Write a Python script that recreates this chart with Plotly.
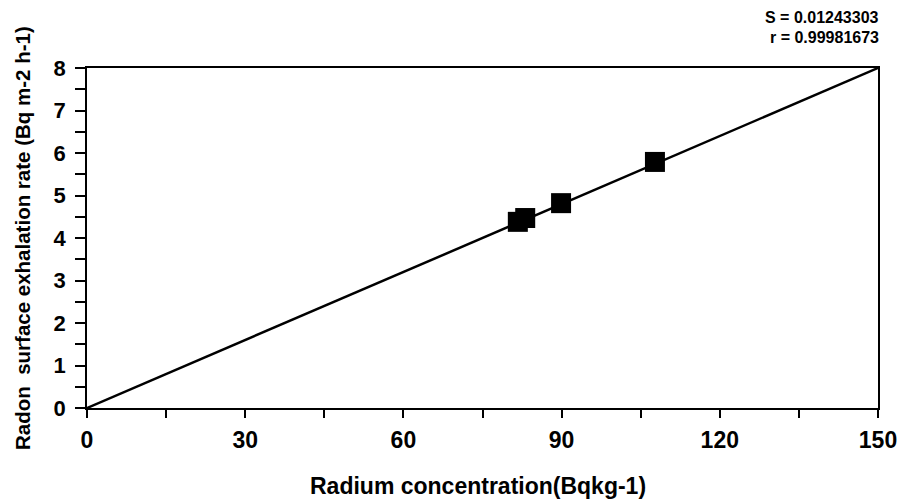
import plotly.graph_objects as go

radium = [81.7, 83.1, 89.9, 107.7]
exhalation = [4.38, 4.47, 4.82, 5.79]
fit_x = [0, 150]
fit_y = [0, 8]
x_ticks = [0, 30, 60, 90, 120, 150]
y_ticks = [0, 1, 2, 3, 4, 5, 6, 7, 8]
x_title = "Radium concentration(Bqkg-1)"
y_title = "Radon  surface exhalation rate (Bq m-2 h-1)"
stats = ["S = 0.01243303", "r = 0.99981673"]

fig = go.Figure()
fig.add_trace(go.Scatter(x=fit_x, y=fit_y, mode="lines",
                         line=dict(color="black", width=2.5), showlegend=False,
                         cliponaxis=False))
fig.add_trace(go.Scatter(x=radium, y=exhalation, mode="markers",
                         marker=dict(symbol="square", size=20, color="black"),
                         showlegend=False))

font_b = "Liberation Sans, Arial, sans-serif"
fig.update_layout(
    width=905, height=503,
    margin=dict(l=87, r=27, t=68, b=95),
    plot_bgcolor="white", paper_bgcolor="white",
    font=dict(family=font_b, color="black"),
    xaxis=dict(range=[0, 150], tickvals=x_ticks, ticks="outside", ticklen=8,
               tickwidth=1.5, tickcolor="black", showline=True, linecolor="black",
               linewidth=1.5, mirror=True, showgrid=False, zeroline=False,
               automargin=False, ticklabelstandoff=3,
               minor=dict(dtick=15, ticks="outside", ticklen=8, tickwidth=1.5, tickcolor="black"),
               tickfont=dict(size=23, family=font_b, weight="bold")),
    yaxis=dict(range=[0, 8], tickvals=y_ticks, ticks="outside", ticklen=10,
               tickwidth=1.5, tickcolor="black", showline=True, linecolor="black",
               linewidth=1.5, mirror=True, showgrid=False, zeroline=False,
               automargin=False, ticklabelstandoff=5,
               minor=dict(dtick=0.5, ticks="outside", ticklen=10, tickwidth=1.5, tickcolor="black"),
               tickfont=dict(size=22, family=font_b, weight="bold")),
    annotations=[
        dict(text="<b>" + x_title + "</b>", xref="paper", yref="paper",
             x=0.494, y=0, xanchor="center", yanchor="middle", yshift=-78,
             showarrow=False, font=dict(size=23, family=font_b)),
        dict(text="<b>" + y_title + "</b>", xref="paper", yref="paper",
             x=0, y=0.5, xanchor="center", yanchor="middle", xshift=-65,
             textangle=-90, showarrow=False, font=dict(size=20.5, family=font_b)),
        dict(text="<b>" + stats[0] + "</b>", xref="paper", yref="paper",
             x=1, y=1, xanchor="right", yanchor="middle", yshift=51, xshift=3,
             showarrow=False, font=dict(size=16, family=font_b)),
        dict(text="<b>" + stats[1] + "</b>", xref="paper", yref="paper",
             x=1, y=1, xanchor="right", yanchor="middle", yshift=31, xshift=3,
             showarrow=False, font=dict(size=16, family=font_b)),
    ],
)

fig.write_html("out.html", config={"displayModeBar": False},
               post_script="document.body.style.margin='0';document.body.style.overflow='hidden';")
